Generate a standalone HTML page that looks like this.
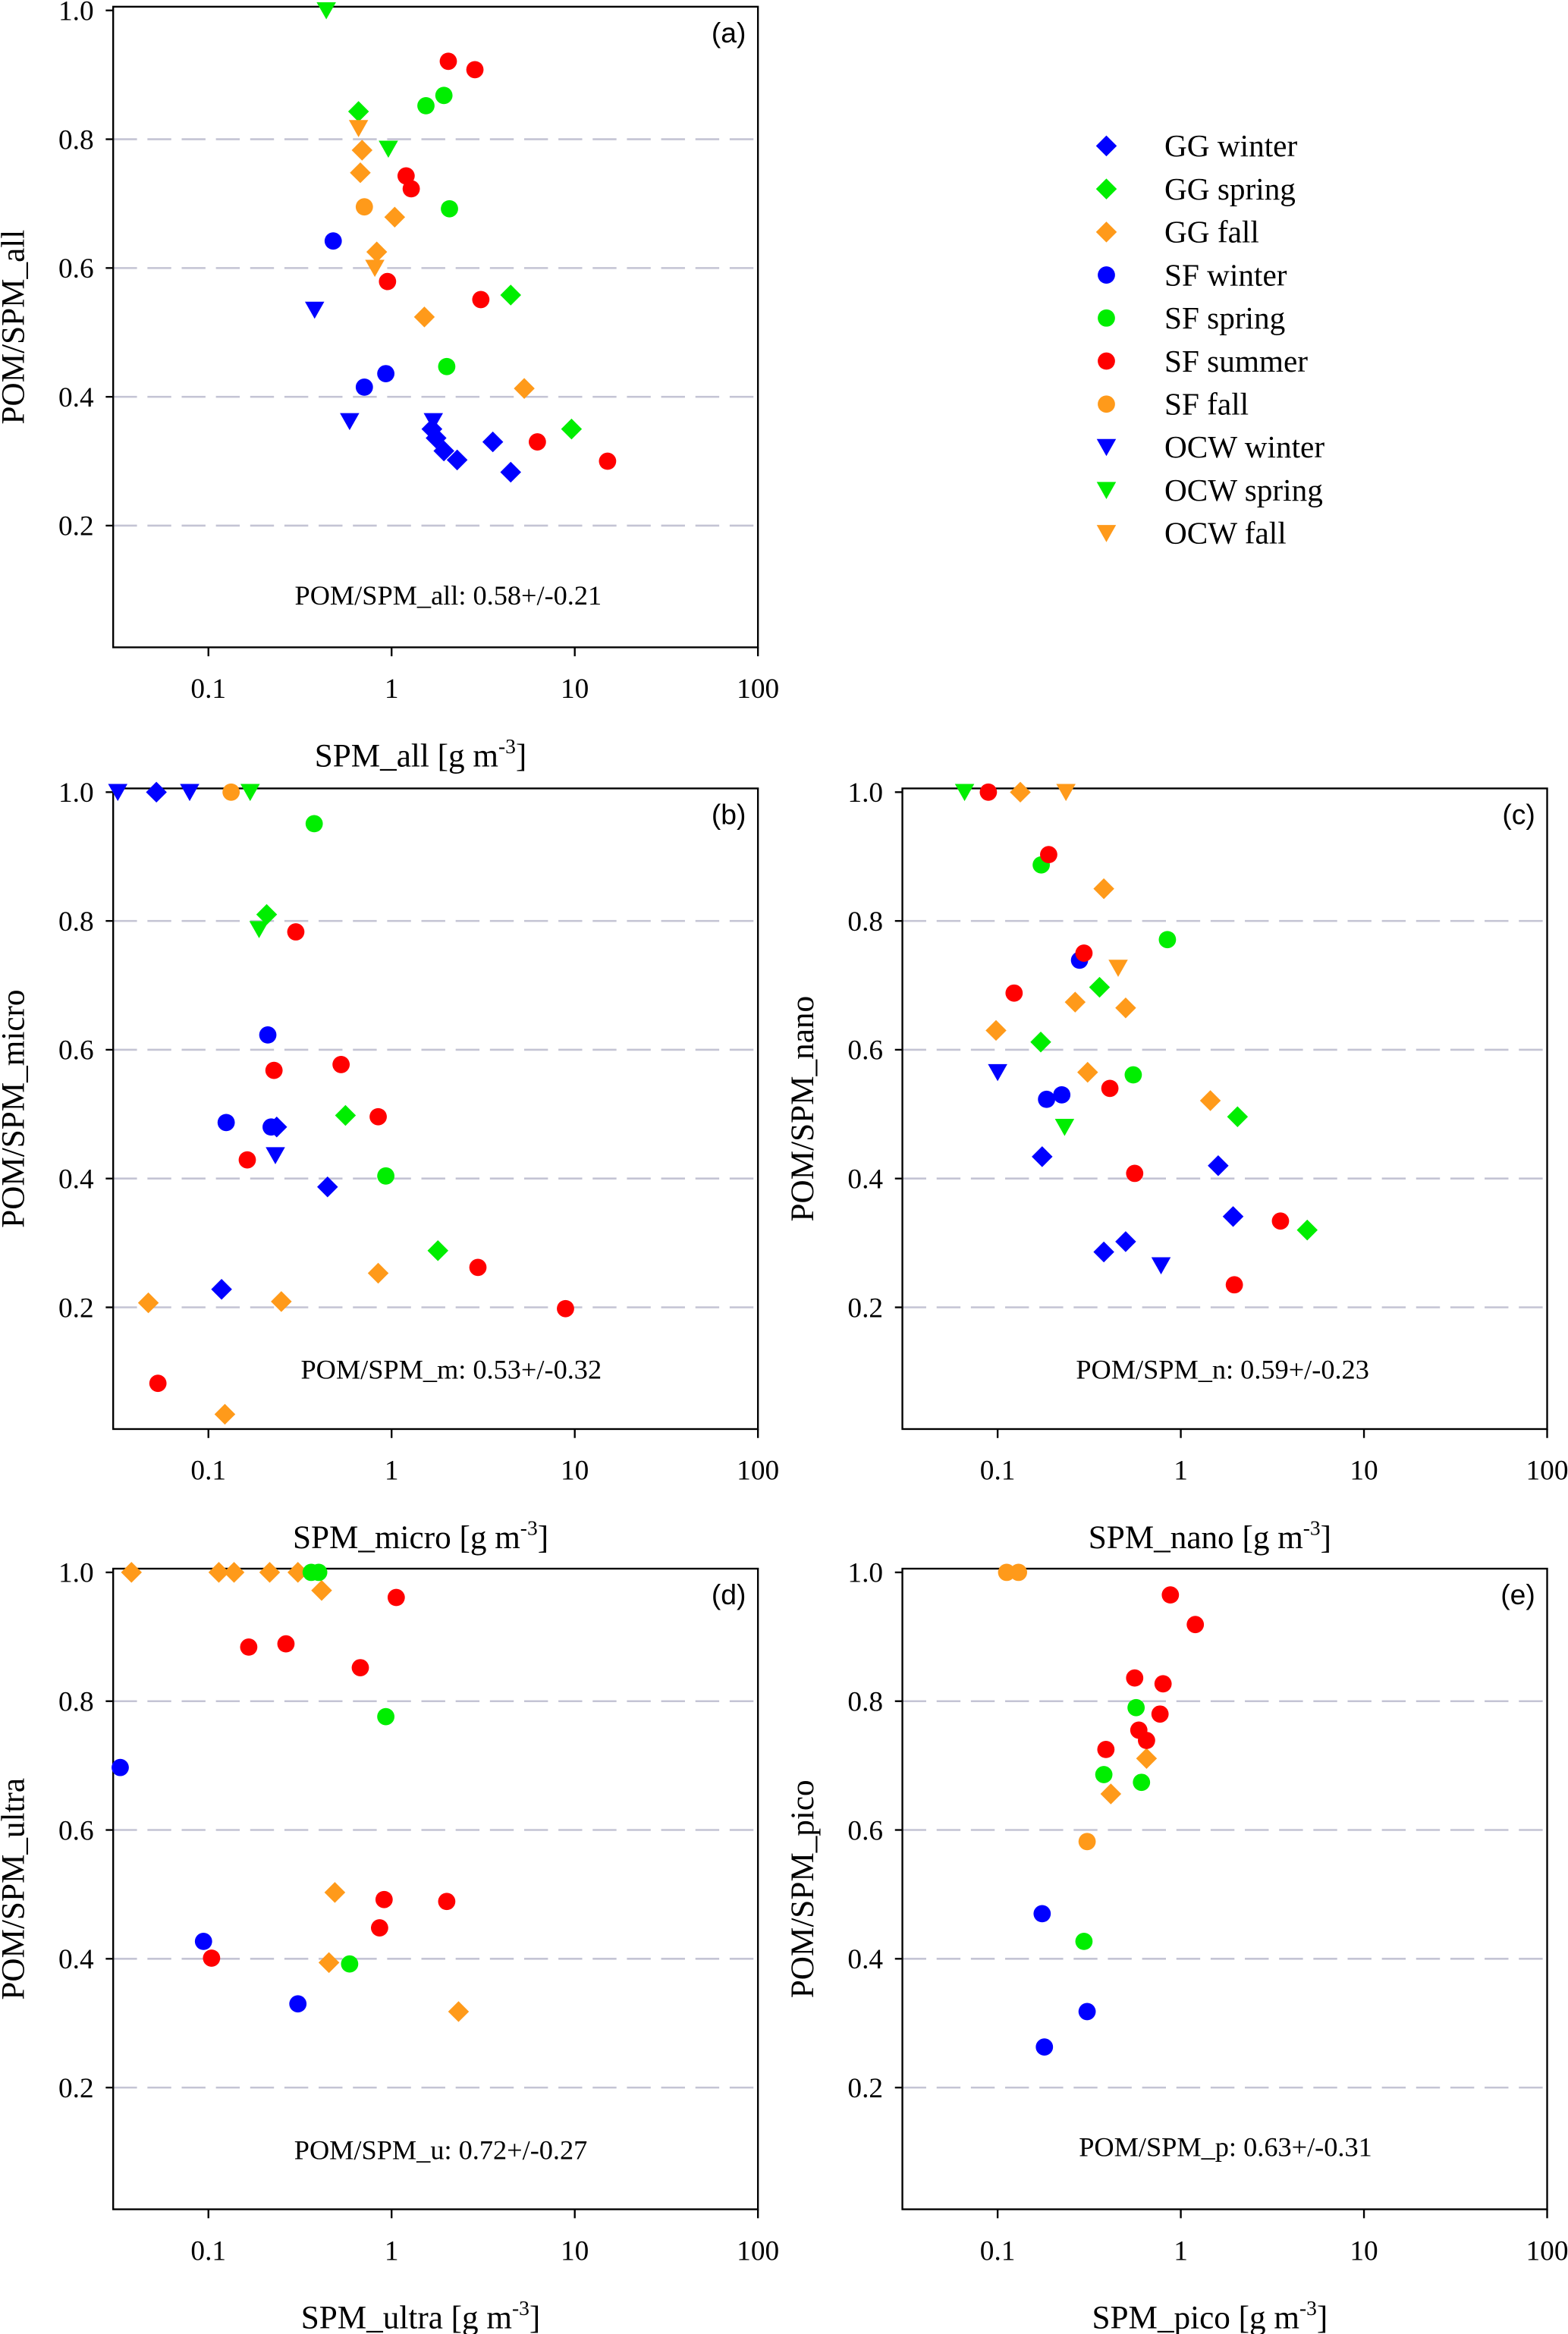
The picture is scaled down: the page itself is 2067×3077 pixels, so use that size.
<!DOCTYPE html>
<html><head><meta charset="utf-8"><title>POM/SPM scatter panels</title>
<style>
html,body{margin:0;padding:0;background:#fff;}
svg{display:block;}
text{font-family:"Liberation Serif","DejaVu Serif",serif;fill:#000;}
</style></head>
<body>
<svg id="fig" xmlns="http://www.w3.org/2000/svg" width="2067" height="3077" viewBox="0 0 1053 1567.5" preserveAspectRatio="none"></svg>
<script>
// ---------- data (x = SPM [g m^-3], y = POM/SPM) ----------
// Panel (a)
const a_GG_winter = [[1.66,0.35],[1.75,0.336],[1.93,0.316],[2.28,0.302],[3.57,0.33],[4.47,0.283]];
const a_GG_spring = [[0.66,0.843],[4.47,0.558],[9.6,0.35]];
const a_GG_fall = [[0.69,0.783],[0.675,0.748],[1.04,0.679],[0.83,0.625],[1.51,0.524],[5.3,0.413]];
const a_SF_winter = [[0.48,0.642],[0.71,0.415],[0.93,0.436]];
const a_SF_spring = [[1.54,0.852],[1.93,0.868],[2.07,0.692],[2.0,0.447]];
const a_SF_summer = [[2.04,0.921],[2.85,0.908],[1.2,0.743],[1.28,0.723],[0.95,0.579],[3.07,0.551],[6.25,0.33],[15.1,0.3]];
const a_SF_fall = [[0.71,0.695]];
const a_OCW_winter = [[0.38,0.535],[0.59,0.362],[1.69,0.362]];
const a_OCW_spring = [[0.44,1.0],[0.96,0.785]];
const a_OCW_fall = [[0.66,0.817],[0.81,0.6]];
// Panel (b)
const b_GG_winter = [[0.052,1.0],[0.118,0.228],[0.236,0.48],[0.447,0.387]];
const b_GG_spring = [[0.208,0.81],[0.56,0.498],[1.79,0.288]];
const b_GG_fall = [[0.047,0.207],[0.25,0.209],[0.845,0.253],[0.123,0.034]];
const b_SF_winter = [[0.211,0.623],[0.125,0.487],[0.22,0.48]];
const b_SF_spring = [[0.378,0.951],[0.93,0.404]];
const b_SF_summer = [[0.30,0.783],[0.228,0.568],[0.53,0.577],[0.845,0.496],[0.163,0.429],[2.96,0.262],[8.9,0.198],[0.053,0.082]];
const b_SF_fall = [[0.133,1.0]];
const b_OCW_winter = [[0.032,1.0],[0.079,1.0],[0.232,0.436]];
const b_OCW_spring = [[0.169,1.0],[0.189,0.787]];
const b_OCW_fall = [];
// Panel (c)
const c_GG_winter = [[0.175,0.434],[1.6,0.42],[1.93,0.341],[0.38,0.286],[0.5,0.302]];
const c_GG_spring = [[0.172,0.612],[0.36,0.697],[2.04,0.496],[4.9,0.32]];
const c_GG_fall = [[0.133,1.0],[0.38,0.85],[0.098,0.63],[0.265,0.674],[0.5,0.665],[0.31,0.565],[1.45,0.521]];
const c_SF_winter = [[0.28,0.739],[0.185,0.523],[0.224,0.53]];
const c_SF_spring = [[0.173,0.887],[0.845,0.771],[0.55,0.561]];
const c_SF_summer = [[0.089,1.0],[0.19,0.903],[0.123,0.688],[0.296,0.75],[0.41,0.54],[0.56,0.408],[3.5,0.334],[1.96,0.235]];
const c_SF_fall = [];
const c_OCW_winter = [[0.1,0.565],[0.78,0.265]];
const c_OCW_spring = [[0.066,1.0],[0.232,0.48]];
const c_OCW_fall = [[0.236,1.0],[0.455,0.727]];
// Panel (d)
const d_GG_fall = [[0.038,1.0],[0.114,1.0],[0.138,1.0],[0.216,1.0],[0.308,1.0],[0.415,0.972],[0.49,0.503],[0.455,0.394],[2.32,0.318]];
const d_SF_winter = [[0.033,0.697],[0.094,0.427],[0.308,0.33]];
const d_SF_spring = [[0.364,1.0],[0.4,1.0],[0.93,0.776],[0.59,0.392]];
const d_SF_summer = [[1.06,0.961],[0.166,0.884],[0.265,0.889],[0.675,0.852],[0.91,0.492],[2.0,0.489],[0.86,0.448],[0.104,0.401]];
// Panel (e)
const e_SF_fall = [[0.112,1.0],[0.13,1.0],[0.308,0.582]];
const e_GG_fall = [[0.65,0.711],[0.415,0.656]];
const e_SF_summer = [[0.877,0.965],[1.2,0.919],[0.56,0.836],[0.8,0.827],[0.77,0.78],[0.59,0.755],[0.65,0.739],[0.39,0.725]];
const e_SF_spring = [[0.57,0.79],[0.38,0.686],[0.61,0.674],[0.296,0.427]];
const e_SF_winter = [[0.175,0.47],[0.308,0.318],[0.18,0.263]];

const xTickValues = [0.1, 1, 10, 100];
const xTickLabels = ["0.1", "1", "10", "100"];
const yTickValues = [1.0, 0.8, 0.6, 0.4, 0.2];
const yTickLabels = ["1.0", "0.8", "0.6", "0.4", "0.2"];
const gridValues = [0.8, 0.6, 0.4, 0.2];
const legendLabels = ["GG winter","GG spring","GG fall","SF winter","SF spring","SF summer","SF fall","OCW winter","OCW spring","OCW fall"];

// ---------- drawing ----------
const NS = "http://www.w3.org/2000/svg";
const svg = document.getElementById("fig");
const COL = {blue:"#0000ff", green:"#00ee00", orange:"#ff9a1a", red:"#ff0000"};
const XMIN = Math.log10(0.0302), XMAX = 2;

function mk(tag, attrs, parent){
  const e = document.createElementNS(NS, tag);
  for (const k in attrs) e.setAttribute(k, attrs[k]);
  (parent||svg).appendChild(e);
  return e;
}

function marker(g, shape, color, cx, cy, name){
  let e;
  if (shape === "diamond") {
    e = mk("polygon", {points:`${cx},${cy-7} ${cx+7},${cy} ${cx},${cy+7} ${cx-7},${cy}`, fill:color}, g);
  } else if (shape === "circle") {
    e = mk("circle", {cx:cx, cy:cy, r:5.8, fill:color}, g);
  } else {
    e = mk("polygon", {points:`${cx-6.5},${cy-5.5} ${cx+6.5},${cy-5.5} ${cx},${cy+6}`, fill:color}, g);
  }
  
  
  return e;
}

function panel(cfg){
  const {id, L, R, y1, label, xTitle, yTitle, stat, statX, statY, series} = cfg;
  const top = y1 - 2.5, bottom = y1 + 0.989*432.5;
  const xs = v => L + (Math.log10(v) - XMIN) / (XMAX - XMIN) * (R - L);
  const ys = v => y1 + (1 - v) * 432.5;
  const g = mk("g", {});
  
  

  gridValues.forEach(v => {
    const ln = mk("line", {x1:L, x2:R, y1:ys(v), y2:ys(v), stroke:"#c4c4d4", "stroke-width":1.3, "stroke-dasharray":"16,7"}, g);
    
    
  });
  const box = mk("rect", {x:L, y:top, width:R-L, height:bottom-top, fill:"none", stroke:"#000", "stroke-width":1.2}, g);
  
  

  xTickValues.forEach((v, i) => {
    const x = xs(v);
    const t = mk("line", {x1:x, x2:x, y1:bottom, y2:bottom+6, stroke:"#000", "stroke-width":1.2}, g);
    
    
    const tx = mk("text", {x:x, y:bottom+34, "font-size":19, "text-anchor":"middle"}, g);
    tx.textContent = xTickLabels[i];
    
    
  });
  yTickValues.forEach((v, i) => {
    const y = ys(v);
    const t = mk("line", {x1:L-5, x2:L, y1:y, y2:y, stroke:"#000", "stroke-width":1.2}, g);
    
    
    const tx = mk("text", {x:L-13, y:y+6.5, "font-size":19, "text-anchor":"end"}, g);
    tx.textContent = yTickLabels[i];
    
    
  });

  const xt = mk("text", {x:(L+R)/2 - 10, y:bottom+80, "font-size":22, "text-anchor":"middle"}, g);
  xt.innerHTML = xTitle + ' [g m<tspan dy="-9" font-size="14">-3</tspan><tspan dy="9">]</tspan>';
  
  

  const ycx = L - 60, ycy = (top + bottom)/2;
  const yt = mk("text", {x:ycx, y:ycy, "font-size":22, "text-anchor":"middle", transform:`rotate(-90 ${ycx} ${ycy})`}, g);
  yt.textContent = yTitle;
  
  

  const pl = mk("text", {x:R-8, y:top+24, "font-size":19, "text-anchor":"end", style:'font-family:"Liberation Sans",sans-serif'}, g);
  pl.textContent = label;
  
  

  const st = mk("text", {x:statX, y:statY, "font-size":18.5, "text-anchor":"middle"}, g);
  st.textContent = stat;
  
  

  series.forEach(s => {
    s.data.forEach(p => marker(g, s.shape, s.color, xs(p[0]), ys(p[1]), s.name + '-point'));
  });
}

panel({id:"a", L:76, R:509, y1:7, label:"(a)", xTitle:"SPM_all", yTitle:"POM/SPM_all",
  stat:"POM/SPM_all: 0.58+/-0.21", statX:301, statY:406,
  series:[
    {data:a_GG_winter, shape:"diamond", color:COL.blue, name:"gg-winter"},
    {data:a_GG_spring, shape:"diamond", color:COL.green, name:"gg-spring"},
    {data:a_GG_fall, shape:"diamond", color:COL.orange, name:"gg-fall"},
    {data:a_SF_winter, shape:"circle", color:COL.blue, name:"sf-winter"},
    {data:a_SF_spring, shape:"circle", color:COL.green, name:"sf-spring"},
    {data:a_SF_summer, shape:"circle", color:COL.red, name:"sf-summer"},
    {data:a_SF_fall, shape:"circle", color:COL.orange, name:"sf-fall"},
    {data:a_OCW_winter, shape:"tri", color:COL.blue, name:"ocw-winter"},
    {data:a_OCW_spring, shape:"tri", color:COL.green, name:"ocw-spring"},
    {data:a_OCW_fall, shape:"tri", color:COL.orange, name:"ocw-fall"}]});

panel({id:"b", L:76, R:509, y1:532, label:"(b)", xTitle:"SPM_micro", yTitle:"POM/SPM_micro",
  stat:"POM/SPM_m: 0.53+/-0.32", statX:303, statY:926,
  series:[
    {data:b_GG_winter, shape:"diamond", color:COL.blue, name:"gg-winter"},
    {data:b_GG_spring, shape:"diamond", color:COL.green, name:"gg-spring"},
    {data:b_GG_fall, shape:"diamond", color:COL.orange, name:"gg-fall"},
    {data:b_SF_winter, shape:"circle", color:COL.blue, name:"sf-winter"},
    {data:b_SF_spring, shape:"circle", color:COL.green, name:"sf-spring"},
    {data:b_SF_summer, shape:"circle", color:COL.red, name:"sf-summer"},
    {data:b_SF_fall, shape:"circle", color:COL.orange, name:"sf-fall"},
    {data:b_OCW_winter, shape:"tri", color:COL.blue, name:"ocw-winter"},
    {data:b_OCW_spring, shape:"tri", color:COL.green, name:"ocw-spring"},
    {data:b_OCW_fall, shape:"tri", color:COL.orange, name:"ocw-fall"}]});

panel({id:"c", L:606, R:1039, y1:532, label:"(c)", xTitle:"SPM_nano", yTitle:"POM/SPM_nano",
  stat:"POM/SPM_n: 0.59+/-0.23", statX:821, statY:926,
  series:[
    {data:c_GG_winter, shape:"diamond", color:COL.blue, name:"gg-winter"},
    {data:c_GG_spring, shape:"diamond", color:COL.green, name:"gg-spring"},
    {data:c_GG_fall, shape:"diamond", color:COL.orange, name:"gg-fall"},
    {data:c_SF_winter, shape:"circle", color:COL.blue, name:"sf-winter"},
    {data:c_SF_spring, shape:"circle", color:COL.green, name:"sf-spring"},
    {data:c_SF_summer, shape:"circle", color:COL.red, name:"sf-summer"},
    {data:c_SF_fall, shape:"circle", color:COL.orange, name:"sf-fall"},
    {data:c_OCW_winter, shape:"tri", color:COL.blue, name:"ocw-winter"},
    {data:c_OCW_spring, shape:"tri", color:COL.green, name:"ocw-spring"},
    {data:c_OCW_fall, shape:"tri", color:COL.orange, name:"ocw-fall"}]});

panel({id:"d", L:76, R:509, y1:1056, label:"(d)", xTitle:"SPM_ultra", yTitle:"POM/SPM_ultra",
  stat:"POM/SPM_u: 0.72+/-0.27", statX:296, statY:1450,
  series:[
    {data:d_GG_fall, shape:"diamond", color:COL.orange, name:"gg-fall"},
    {data:d_SF_winter, shape:"circle", color:COL.blue, name:"sf-winter"},
    {data:d_SF_spring, shape:"circle", color:COL.green, name:"sf-spring"},
    {data:d_SF_summer, shape:"circle", color:COL.red, name:"sf-summer"}]});

panel({id:"e", L:606, R:1039, y1:1056, label:"(e)", xTitle:"SPM_pico", yTitle:"POM/SPM_pico",
  stat:"POM/SPM_p: 0.63+/-0.31", statX:823, statY:1448,
  series:[
    {data:e_SF_fall, shape:"circle", color:COL.orange, name:"sf-fall"},
    {data:e_GG_fall, shape:"diamond", color:COL.orange, name:"gg-fall"},
    {data:e_SF_summer, shape:"circle", color:COL.red, name:"sf-summer"},
    {data:e_SF_spring, shape:"circle", color:COL.green, name:"sf-spring"},
    {data:e_SF_winter, shape:"circle", color:COL.blue, name:"sf-winter"}]});

// ---------- legend ----------
const legShapes = ["diamond","diamond","diamond","circle","circle","circle","circle","tri","tri","tri"];
const legColors = [COL.blue,COL.green,COL.orange,COL.blue,COL.green,COL.red,COL.orange,COL.blue,COL.green,COL.orange];
const lg = mk("g", {});


legendLabels.forEach((lab, i) => {
  const y = 98 + i * 28.9;
  const eg = mk("g", {}, lg);
  
  
  marker(eg, legShapes[i], legColors[i], 743, y, 'legend-marker');
  const t = mk("text", {x:782, y:y+7, "font-size":21}, eg);
  t.textContent = lab;
  
  
});
</script>
</body></html>
